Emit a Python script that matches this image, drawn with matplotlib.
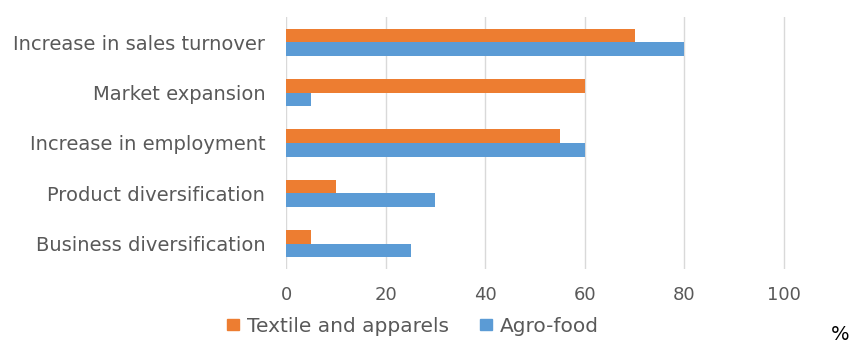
import matplotlib
matplotlib.use("Agg")
import matplotlib.pyplot as plt
import numpy as np
from matplotlib.patches import Patch

categories = ["Increase in sales turnover", "Market expansion", "Increase in employment",
              "Product diversification", "Business diversification"]
textile = [70, 60, 55, 10, 5]
agro = [80, 5, 60, 30, 25]
xticks = [0, 20, 40, 60, 80, 100]

plt.rcParams['font.family'] = ['DejaVu Sans']
gray = "#595959"
orange = "#ED7D31"
blue = "#5B9BD5"

x0, x100 = 286, 784
xmax = 110
right = x0 + (x100 - x0) * xmax / 100
fig = plt.figure(figsize=(8.53, 3.46), dpi=100)
ax = fig.add_axes([x0/853, 1-269/346, (right-x0)/853, (269-17)/346])

n = len(categories)
y = np.arange(n)
h = 0.27
ax.barh(y - h/2, textile, height=h, color=orange, zorder=3)
ax.barh(y + h/2, agro, height=h, color=blue, zorder=3)
ax.set_ylim(n - 0.5, -0.5)
ax.set_xlim(0, xmax)
ax.set_yticks(y)
ax.set_yticklabels(categories, fontsize=14, color=gray)
ax.set_xticks(xticks)
ax.set_xticklabels([str(t) for t in xticks], fontsize=13, color=gray)
ax.tick_params(length=0, pad=15, axis='y')
ax.tick_params(length=0, pad=12, axis='x')
for s in ax.spines.values():
    s.set_visible(False)
ax.grid(axis='x', color="#D9D9D9", linewidth=1, zorder=0)
ax.set_axisbelow(True)

handles = [Patch(color=orange), Patch(color=blue)]
fig.legend(handles, ["Textile and apparels", "Agro-food"], loc='center',
           bbox_to_anchor=(413/853, 1-326/346), ncol=2, frameon=False,
           fontsize=14.5, labelcolor=gray, handlelength=0.6, handleheight=0.5,
           columnspacing=1.55, handletextpad=0.4)
fig.text(840/853, 1-335/346, "%", fontsize=14, color="black", ha='center', va='center')

fig.savefig("out.png", dpi=100)
